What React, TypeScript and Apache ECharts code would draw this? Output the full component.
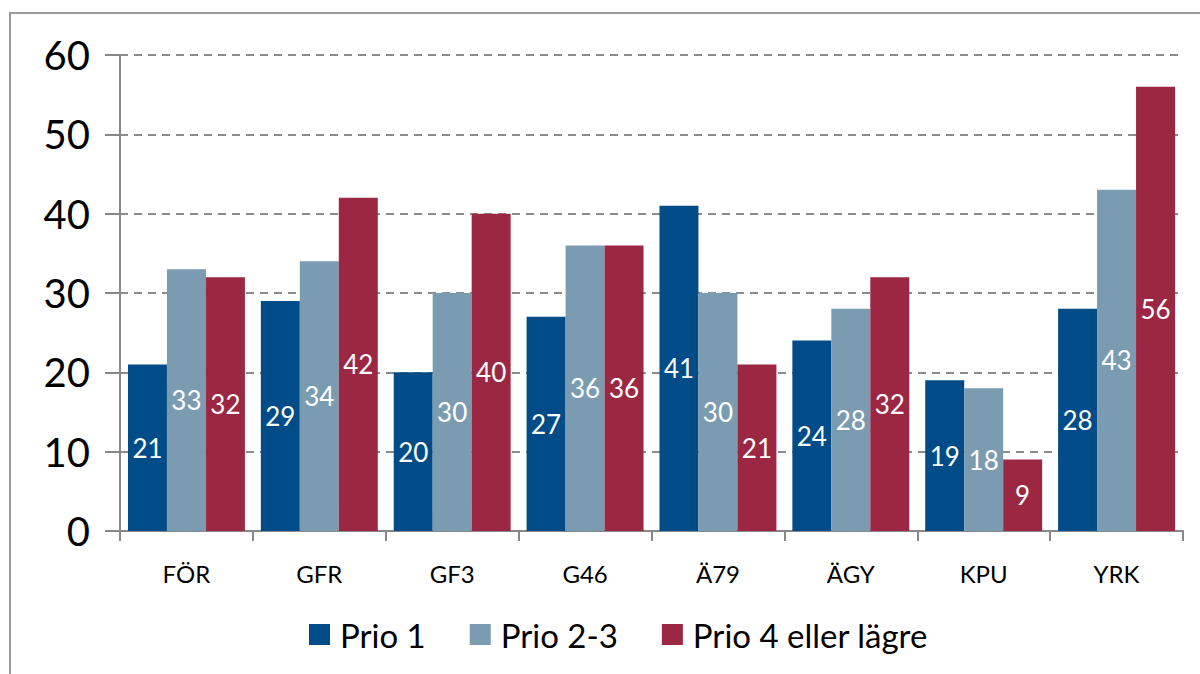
import React, { useEffect, useRef } from "react";
import * as echarts from "echarts";

const categories = ["FÖR", "GFR", "GF3", "G46", "Ä79", "ÄGY", "KPU", "YRK"];
const prio1 = [21, 29, 20, 27, 41, 24, 19, 28];
const prio23 = [33, 34, 30, 36, 30, 28, 18, 43];
const prio4 = [32, 42, 40, 36, 21, 32, 9, 56];
const seriesNames = ["Prio 1", "Prio 2-3", "Prio 4 eller lägre"];
const colors = ["#004C88", "#7A9BB0", "#9C2743"];
const yTicks = { min: 0, max: 60, interval: 10 };

const FONT = "Lato, 'Open Sans', sans-serif";

export default function App() {
  const ref = useRef<HTMLDivElement>(null);
  useEffect(() => {
    if (!ref.current) return;
    const chart = echarts.init(ref.current, undefined, { renderer: "svg" });
    const mk = (name: string, data: number[], color: string) => ({
      name,
      type: "bar",
      data,
      barGap: "0%",
      barCategoryGap: "12%",
      itemStyle: { color },
      label: {
        show: true,
        position: "inside",
        color: "#fff",
        fontSize: 26,
        fontFamily: FONT,
      },
    });
    chart.setOption({
      animation: false,
      backgroundColor: "#fff",
      textStyle: { fontFamily: FONT },
      graphic: [
        {
          type: "rect",
          shape: { x: 10, y: 13, width: 1300, height: 800 },
          style: { fill: "none", stroke: "#9a9a9a", lineWidth: 2 },
          silent: true,
        },
      ],
      legend: {
        bottom: 18,
        left: 304,
        itemWidth: 21,
        itemHeight: 21,
        itemGap: 44,
        icon: "rect",
        textStyle: { fontSize: 33, color: "#000", fontFamily: FONT, padding: [0, 0, 0, 5] },
        data: seriesNames,
      },
      grid: { left: 120, right: 17, top: 55, bottom: 143, containLabel: false },
      xAxis: {
        type: "category",
        data: categories,
        axisLine: { lineStyle: { color: "#888", width: 2 } },
        axisTick: { show: true, length: 10, lineStyle: { color: "#888", width: 2 } },
        axisLabel: { fontSize: 24, color: "#000", margin: 30, fontFamily: FONT },
      },
      yAxis: {
        type: "value",
        min: yTicks.min,
        max: yTicks.max,
        interval: yTicks.interval,
        axisLine: { show: true, lineStyle: { color: "#888", width: 2 } },
        axisTick: { show: true, length: 15, lineStyle: { color: "#888", width: 2 } },
        axisLabel: { fontSize: 40, color: "#000", margin: 30, fontFamily: FONT },
        splitLine: { lineStyle: { color: "#8c8c8c", type: [8, 6], width: 2 } },
      },
      series: [
        mk(seriesNames[0], prio1, colors[0]),
        mk(seriesNames[1], prio23, colors[1]),
        mk(seriesNames[2], prio4, colors[2]),
      ],
    });
    return () => chart.dispose();
  }, []);
  return (
    <div
      ref={ref}
      style={{ position: "absolute", left: 0, top: 0, width: 1200, height: 674 }}
    />
  );
}
